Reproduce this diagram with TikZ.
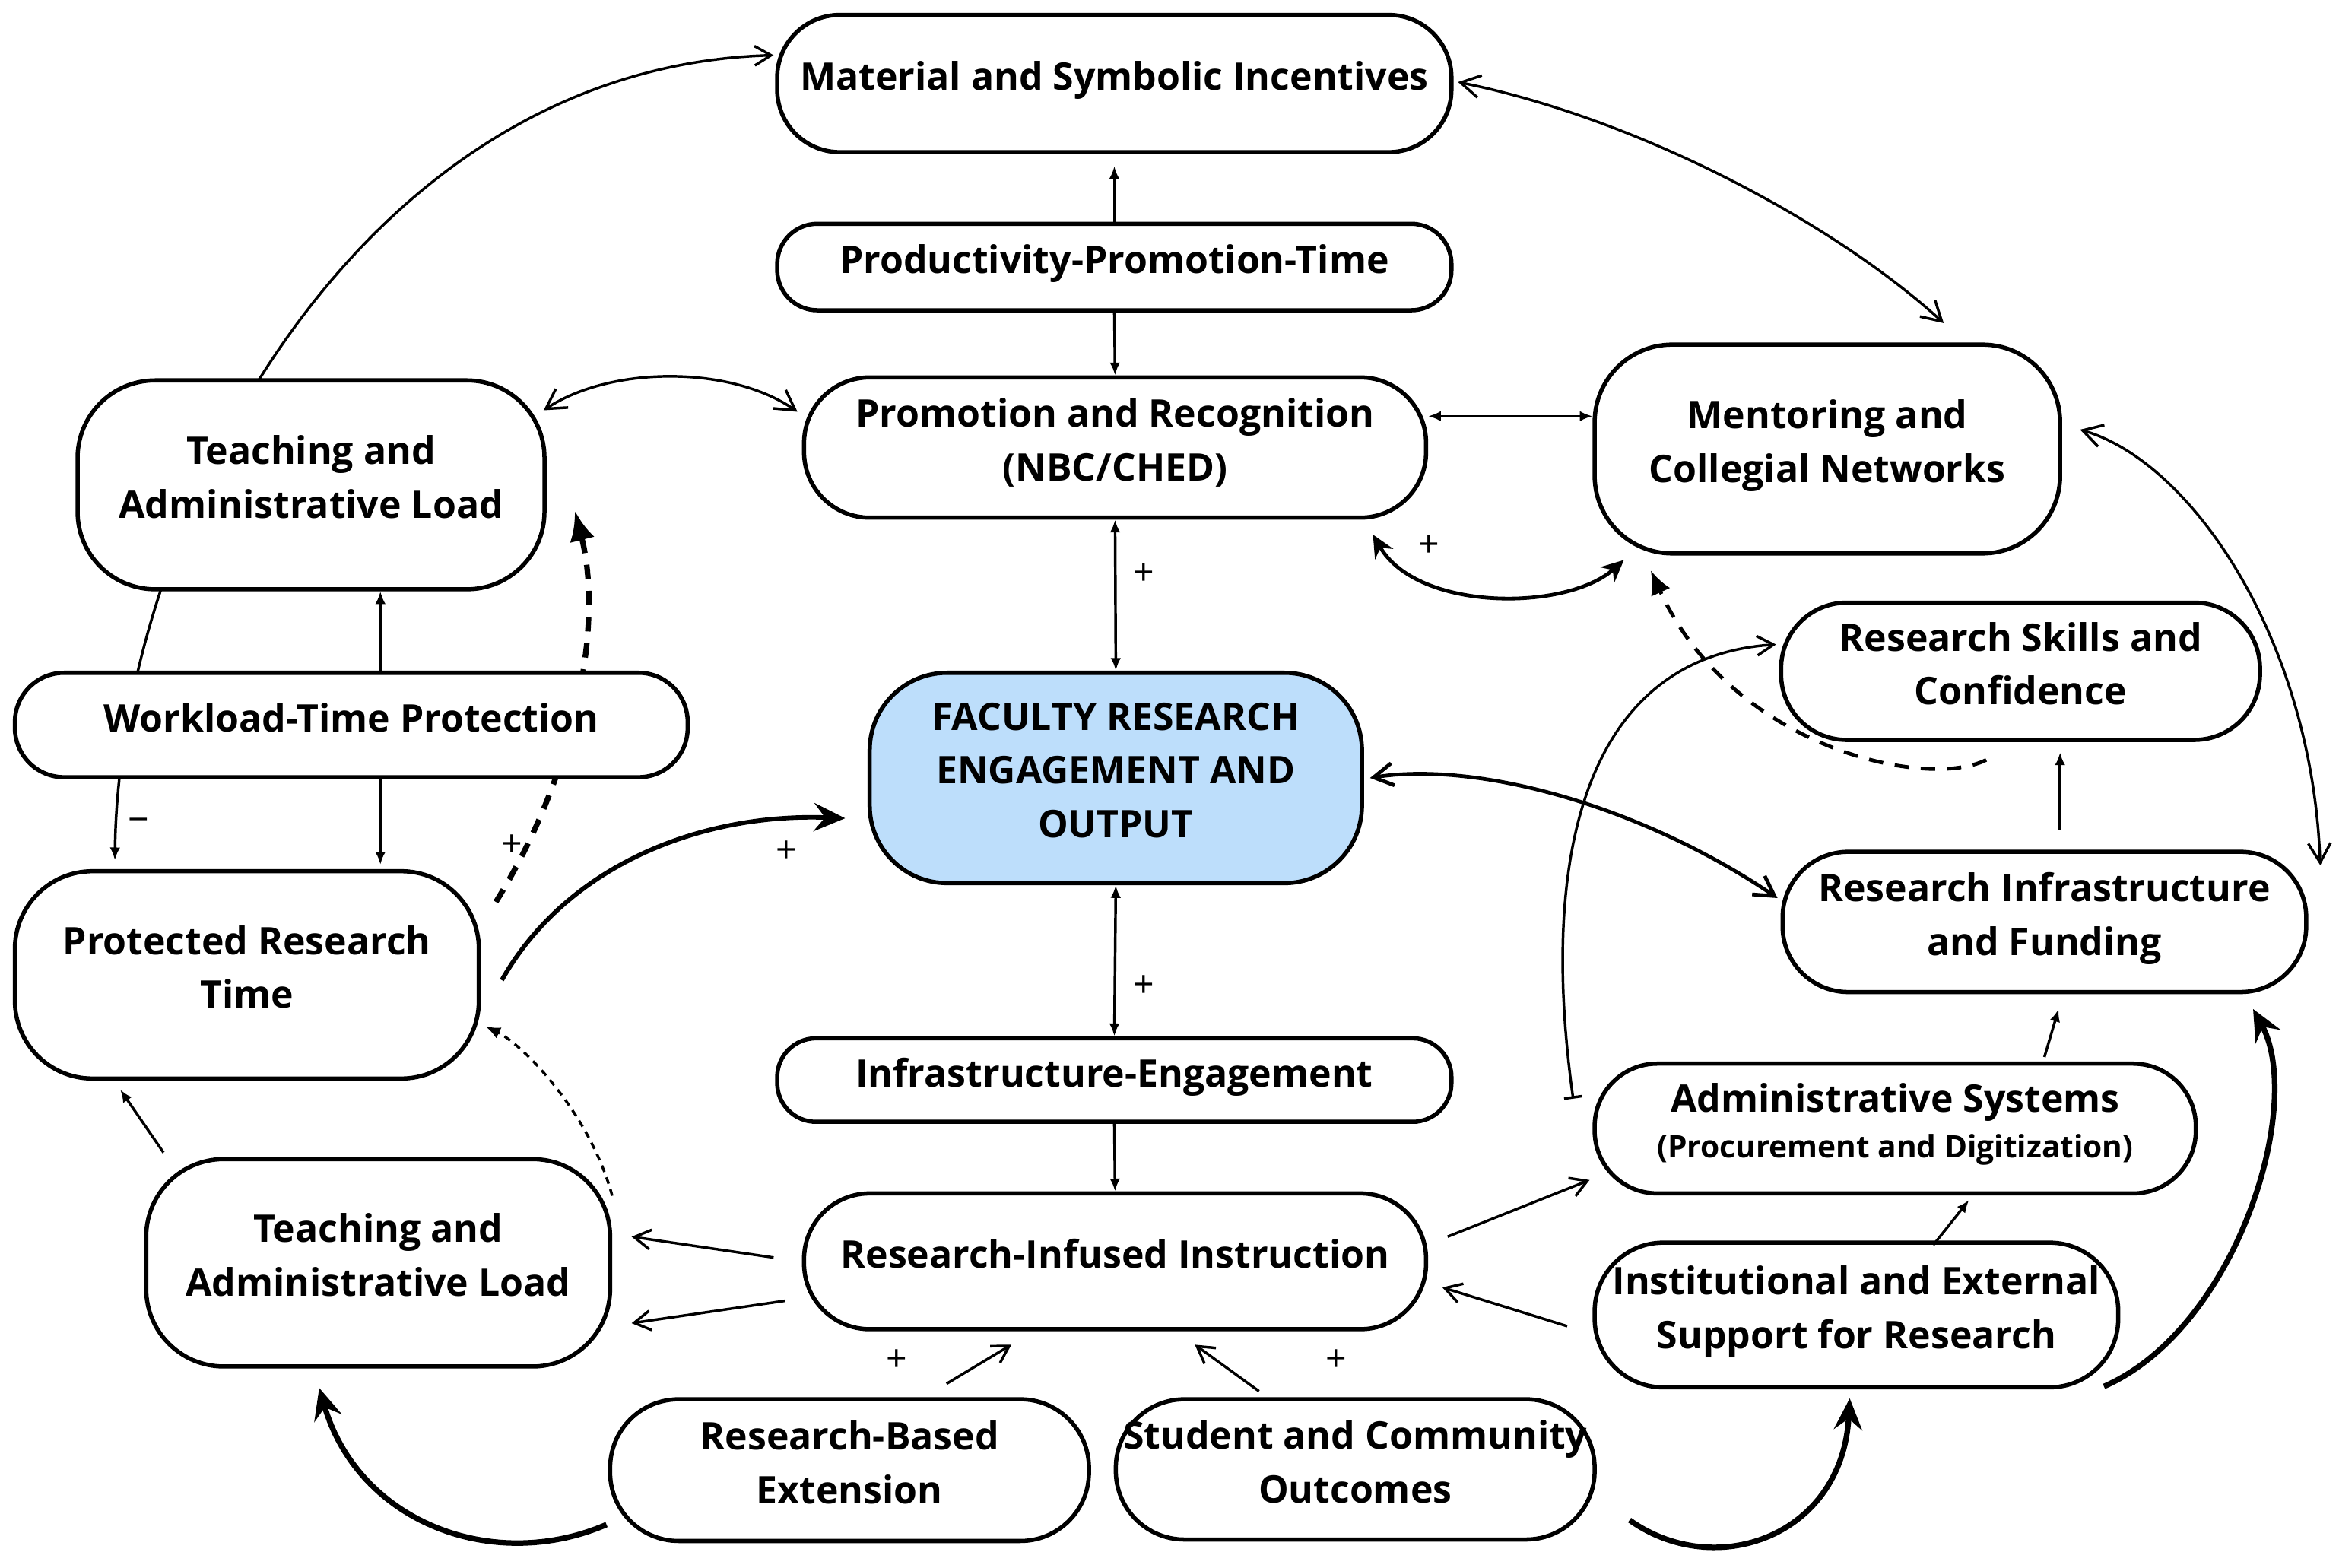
\documentclass[tikz,border=0pt]{standalone}
\usepackage{fontspec}
\setmainfont{Open Sans}
\usetikzlibrary{arrows.meta,backgrounds,calc}
\newlength\U \setlength\U{0.02cm}
\definecolor{facblue}{RGB}{189,222,251}
\begin{document}
\begin{tikzpicture}[x=0.02cm,y=-0.02cm,
  box/.style={draw, line width=1.6pt, fill=white, align=center, inner sep=0pt,
    font=\bfseries\fontsize{14.5}{20.5}\selectfont,
    execute at end node={\rule[-6pt]{0pt}{6pt}}},
  lnk/.style={line width=1pt},
  thk/.style={line width=1.4pt},
  heavy/.style={line width=2.1pt},
  sm/.style={-{Latex[length=1.7mm,width=1.4mm]}},
  smb/.style={{Latex[length=1.7mm,width=1.4mm]}-{Latex[length=1.7mm,width=1.4mm]}},
  barb/.style={-{Straight Barb[length=2.2mm,width=2.6mm]}},
  barbb/.style={{Straight Barb[length=2.6mm,width=3mm]}-{Straight Barb[length=2.6mm,width=3mm]}},
  bigtip/.style={-{Stealth[length=4.2mm,width=3.8mm,inset=1.5mm]}},
  bigtipb/.style={{Stealth[length=3mm,width=2.8mm,inset=1mm]}-{Stealth[length=3mm,width=2.8mm,inset=1mm]}},
  dsh/.style={dash pattern=on 5.5pt off 4.5pt},
  dot/.style={dash pattern=on 2.6pt off 2.2pt},
  lbl/.style={font=\fontsize{14}{14}\selectfont, inner sep=0pt}
]
\useasboundingbox (0,0) rectangle (1568,1051);

% ---- nodes ----
\node[box, minimum width=452*\U, minimum height=92*\U, rounded corners=42*\U] (mat) at (747,56) {Material and Symbolic Incentives};
\node[box, minimum width=452*\U, minimum height=58*\U, rounded corners=27*\U] (prod) at (747,179) {Productivity-Promotion-Time};
\node[box, minimum width=417*\U, minimum height=94*\U, rounded corners=44*\U] (prom) at (747.5,300) {Promotion and Recognition\\(NBC/CHED)};
\node[box, minimum width=312*\U, minimum height=140*\U, rounded corners=52*\U] (ment) at (1225,301) {Mentoring and\\Collegial Networks};
\node[box, minimum width=313*\U, minimum height=140*\U, rounded corners=52*\U] (tal1) at (208.5,325) {Teaching and\\Administrative Load};
\node[box, minimum width=451*\U, minimum height=70*\U, rounded corners=33*\U] (wtp) at (235.5,486) {Workload-Time Protection};
\node[box, fill=facblue, minimum width=330*\U, minimum height=141*\U, rounded corners=52*\U] (fac) at (748,521.5) {FACULTY RESEARCH\\ENGAGEMENT AND\\OUTPUT};
\node[box, minimum width=311*\U, minimum height=139*\U, rounded corners=52*\U] (prt) at (165.5,653.5) {Protected Research\\Time};
\node[box, minimum width=321*\U, minimum height=92*\U, rounded corners=44*\U] (rsc) at (1354.5,450) {Research Skills and\\Confidence};
\node[box, minimum width=351*\U, minimum height=94*\U, rounded corners=44*\U] (rif) at (1370.5,618) {Research Infrastructure\\and Funding};
\node[box, minimum width=452*\U, minimum height=56*\U, rounded corners=26*\U] (ie) at (747,724) {Infrastructure-Engagement};
\node[box, minimum width=403*\U, minimum height=87*\U, rounded corners=42*\U] (as) at (1270.5,756.5) {Administrative Systems\\[-3pt]{\fontsize{11.8}{13}\selectfont (Procurement and Digitization)}};
\node[box, minimum width=311*\U, minimum height=139*\U, rounded corners=52*\U] (tal2) at (253.5,846.5) {Teaching and\\Administrative Load};
\node[box, minimum width=417*\U, minimum height=91*\U, rounded corners=44*\U] (rii) at (747.5,845.5) {Research-Infused Instruction};
\node[box, minimum width=351*\U, minimum height=97*\U, rounded corners=46*\U] (ies) at (1244.5,881.5) {Institutional and External\\Support for Research};
\node[box, minimum width=321*\U, minimum height=95*\U, rounded corners=46*\U] (rbe) at (569.5,985.5) {Research-Based\\Extension};
\node[box, minimum width=321*\U, minimum height=94*\U, rounded corners=46*\U] (sco) at (908.5,985) {Student and Community\\Outcomes};

% ---- connectors passing behind boxes ----
\begin{scope}[on background layer]
\draw[lnk, {Latex[length=1.7mm,width=1.4mm]}-{Straight Barb[length=2.2mm,width=2.6mm]}]
  ($(prt.north)+(-88.5,-6)$) .. controls (80,350) and (240,45) .. ($(mat.west)+(-1,-19)$);
\draw[heavy, dsh, -{Latex[length=4mm,width=3.4mm]}]
  ($(prt.north east)+(10,22)$) .. controls (385,520) and (405,420) .. ($(tal1.south east)+(19,-54)$);
\end{scope}

% ---- straight connectors ----
\draw[lnk, sm] (prod.north) -- ($(mat.south)+(0,8)$);
\draw[lnk, sm] (prod.south) -- (prom.north);
\draw[lnk, smb] ($(prom.east)+(0,-21)$) -- ($(ment.west)+(0,-22)$);
\draw[lnk, smb] (prom.south) -- (fac.north);
\draw[lnk, smb] (fac.south) -- (ie.north);
\draw[lnk, sm] (ie.south) -- (rii.north);
\draw[lnk, sm] ($(wtp.north)+(19.5,0)$) -- ($(tal1.south)+(46.5,0)$);
\draw[lnk, sm] ($(wtp.south)+(19.5,0)$) -- ($(prt.north)+(89.5,-3)$);
\draw[lnk, sm] ($(tal2.north west)+(13,-3)$) -- ($(prt.south west)+(72,6)$);
\draw[lnk, barb] ($(rii.west)+(-19,-2.5)$) -- ($(tal2.east)+(13,-17.5)$);
\draw[lnk, barb] ($(rii.west)+(-11.5,26.5)$) -- ($(tal2.east)+(13,40.5)$);
\draw[lnk, barb] ($(rbe.north)+(65,-9)$) -- ($(rii.south)+(-69.5,9)$);
\draw[lnk, barb] ($(sco.north)+(-64.5,-4)$) -- ($(rii.south)+(53.5,9)$);
\draw[lnk, barb] ($(rii.east)+(13,-16.5)$) -- ($(as.west)+(-2,34.5)$);
\draw[lnk, barb] ($(ies.west)+(-17,7.5)$) -- ($(rii.east)+(9.5,17.5)$);
\draw[lnk, sm] ($(as.north)+(100,-3)$) -- ($(rif.south)+(9.5,10)$);
\draw[lnk, sm] ($(ies.north)+(51.5,3)$) -- ($(as.south)+(49.5,3)$);
\draw[lnk, sm] ($(rif.north)+(10.5,-13)$) -- ($(rsc.south)+(26.5,7)$);

% ---- curved connectors ----
\draw[lnk, barbb] ($(tal1.east)+(-2,-50)$) .. controls (410,245) and (490,245) .. ($(prom.west)+(-3,-24)$);
\draw[lnk, barbb] ($(mat.east)+(3,-1)$) .. controls (1100,80) and (1230,150) .. ($(ment.north)+(78,-13)$);
\draw[thk, bigtipb] ($(prom.south east)+(-37,10)$) .. controls (950,410) and (1050,410) .. ($(ment.south west)+(21,3)$);
\draw[thk, dsh, -{Latex[length=3.2mm,width=2.8mm]}] ($(rsc.south)+(-23,12)$) .. controls (1290,530) and (1160,500) .. ($(ment.south west)+(39,10)$);
\draw[lnk, {Bar[width=2.4mm]}-{Straight Barb[length=2.2mm,width=2.6mm]}] ($(as.west)+(-13,-20)$) .. controls (1030,560) and (1070,440) .. ($(rsc.west)+(-2,-18)$);
\draw[thk, barbb] ($(fac.east)+(4,0)$) .. controls (990,510) and (1100,540) .. ($(rif.west)+(-2,-16)$);
\draw[lnk, barbb] ($(ment.east)+(12,-13)$) .. controls (1470,310) and (1550,430) .. ($(rif.east)+(8,-38)$);
\draw[heavy, bigtip] ($(ies.south east)+(-11,-2)$) .. controls (1500,890) and (1545,740) .. ($(rif.south east)+(-37,10)$);
\draw[heavy, bigtip] ($(rbe.west)+(-1,36.5)$) .. controls (330,1055) and (240,1020) .. ($(tal2.south)+(-39.5,13)$);
\draw[heavy, bigtip] ($(sco.east)+(22,34)$) .. controls (1150,1060) and (1235,1030) .. ($(ies.south)+(-4.5,6)$);
\draw[line width=1.7pt, bigtip] ($(prt.east)+(14,3.5)$) .. controls (380,580) and (470,545) .. ($(fac.west)+(-15,27)$);
\draw[lnk, dot, -{Latex[length=2mm,width=1.6mm]}] ($(tal2.north east)+(0,26)$) .. controls (395,745) and (350,700) .. ($(prt.east)+(3,34.5)$);

% ---- polarity labels ----
\node[lbl] (p1) at (767,385) {+};
\node[lbl] (p2) at (767,661) {+};
\node[lbl] (p3) at (958,366) {+};
\node[lbl] (p4) at (343,567) {+};
\node[lbl] (p5) at (527,571) {+};
\node[lbl] (p6) at (601,912) {+};
\node[lbl] (p7) at (896,912) {+};
\node[lbl] (m1) at (93,553) {−};
\end{tikzpicture}
\end{document}
